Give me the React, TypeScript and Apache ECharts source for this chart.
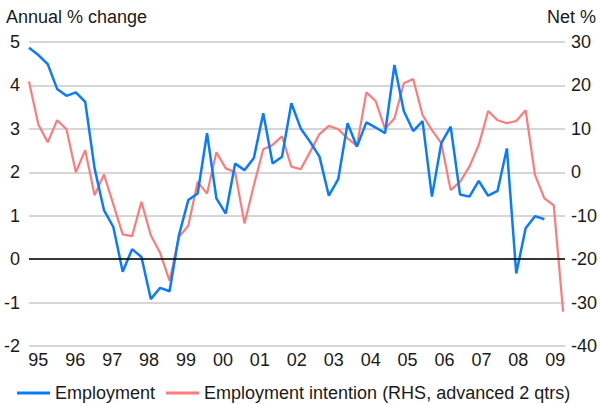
import React, { useEffect, useRef } from "react";
import * as echarts from "echarts";

// Quarterly observations, index 0 = first quarter shown
const employment = [
  4.87, 4.7, 4.49, 3.92, 3.76, 3.84, 3.62, 2.09, 1.13, 0.74,
  -0.29, 0.23, 0.05, -0.92, -0.66, -0.74, 0.55, 1.36, 1.51, 2.9,
  1.4, 1.05, 2.2, 2.05, 2.33, 3.36, 2.2, 2.36, 3.59, 3.01,
  2.7, 2.36, 1.46, 1.84, 3.13, 2.59, 3.15, 3.03, 2.9, 4.47,
  3.41, 2.95, 3.18, 1.44, 2.67, 3.05, 1.49, 1.44, 1.8, 1.46,
  1.57, 2.55, -0.33, 0.71, 0.99, 0.92,
];

const intentions = [
  20.9, 11.0, 6.9, 12.0, 9.9, 0.0, 5.1, -5.3, -0.5, -7.4,
  -14.3, -14.7, -6.8, -14.5, -18.6, -25.0, -14.9, -12.3, -2.2, -4.9,
  4.6, 0.9, 0.0, -11.8, -3.0, 5.3, 6.3, 8.3, 1.3, 0.7,
  4.7, 8.8, 10.7, 9.9, 7.8, 6.1, 18.4, 16.4, 10.0, 12.4,
  20.5, 21.5, 13.2, 9.7, 6.7, -4.1, -2.2, 1.3, 6.3, 14.1,
  12.0, 11.3, 11.8, 14.3, -0.6, -6.0, -7.6, -32.1,
];

const yearLabels = ["95", "96", "97", "98", "99", "00", "01", "02", "03", "04", "05", "06", "07", "08", "09"];

const seriesNames = ["Employment", "Employment intention (RHS, advanced 2 qtrs)"];

const FONT = '"Liberation Sans", Arial, sans-serif';
const FS = 18;
const TEXT = "#1a1a1a";
const BLUE = "#0a7bff";
const RED = "#ff7b7b";

const labelStart = 1;
const labelStep = 3.94;

export default function App() {
  const ref = useRef<HTMLDivElement>(null);

  useEffect(() => {
    if (!ref.current) return;
    const chart = echarts.init(ref.current, undefined, { renderer: "svg" });
    const labelPositions = yearLabels.map((_, k) => labelStart + k * labelStep);
    chart.setOption({
      animation: false,
      backgroundColor: "#fff",
      textStyle: { fontFamily: FONT },
      title: [
        {
          text: "Annual % change",
          left: 6,
          top: 8,
          padding: 0,
          textStyle: { fontFamily: FONT, fontSize: FS, fontWeight: "normal", color: TEXT },
        },
        {
          text: "Net %",
          right: 4,
          top: 8,
          padding: 0,
          textStyle: { fontFamily: FONT, fontSize: FS, fontWeight: "normal", color: TEXT },
        },
      ],
      legend: {
        left: 12,
        top: 379,
        icon: "rect",
        itemWidth: 33,
        itemHeight: 3,
        itemGap: 11,
        textStyle: { fontFamily: FONT, fontSize: FS, color: TEXT },
        data: seriesNames,
      },
      grid: { left: 29, right: 33, top: 42, bottom: 58 },
      xAxis: {
        type: "value",
        min: 0,
        max: 57.2,
        axisLine: { show: false },
        axisTick: { show: false },
        splitLine: { show: false },
        axisLabel: {
          customValues: labelPositions,
          formatter: (v: number) => yearLabels[Math.round((v - labelStart) / labelStep)] ?? "",
          fontFamily: FONT,
          fontSize: FS,
          color: TEXT,
          margin: 5,
        },
      },
      yAxis: [
        {
          type: "value",
          min: -2,
          max: 5,
          interval: 1,
          position: "left",
          axisLine: { show: false },
          axisTick: { show: false },
          splitLine: { show: true, lineStyle: { color: "#c8c8c8", width: 1.5 } },
          axisLabel: { fontFamily: FONT, fontSize: FS, color: TEXT, margin: 9 },
        },
        {
          type: "value",
          min: -40,
          max: 30,
          interval: 10,
          position: "right",
          axisLine: { show: false },
          axisTick: { show: false },
          splitLine: { show: false },
          axisLabel: { fontFamily: FONT, fontSize: FS, color: TEXT, margin: 6 },
        },
      ],
      series: [
        {
          name: seriesNames[0],
          type: "line",
          yAxisIndex: 0,
          showSymbol: false,
          color: BLUE,
          lineStyle: { color: BLUE, width: 2.5 },
          data: employment.map((v, i) => [i, v]),
          z: 3,
          markLine: {
            silent: true,
            symbol: "none",
            label: { show: false },
            lineStyle: { color: "#000", width: 1.5, type: "solid" },
            data: [{ yAxis: 0 }],
          },
        },
        {
          name: seriesNames[1],
          type: "line",
          yAxisIndex: 1,
          showSymbol: false,
          color: RED,
          lineStyle: { color: RED, width: 2.2 },
          data: intentions.map((v, i) => [i, v]),
          z: 2,
        },
      ],
    });
    return () => chart.dispose();
  }, []);

  return (
    <div
      ref={ref}
      style={{ position: "absolute", left: 0, top: 0, width: 600, height: 404 }}
    />
  );
}
